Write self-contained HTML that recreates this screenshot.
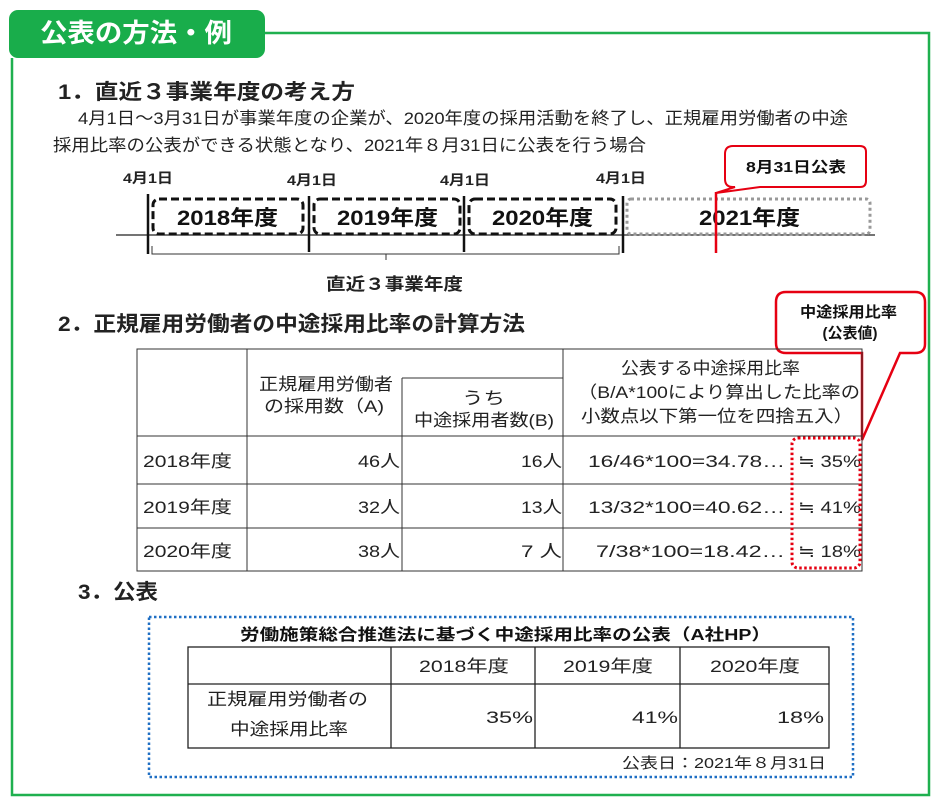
<!DOCTYPE html>
<html><head><meta charset="utf-8"><style>
html,body{margin:0;padding:0;background:#fff;}
svg{display:block;font-family:"Liberation Sans","Noto Sans CJK JP",sans-serif;}
.b{font-weight:bold;}
</style></head><body>
<svg width="940" height="805" viewBox="0 0 940 805" xmlns="http://www.w3.org/2000/svg">
<path d="M265 33 H929 V795 H12 V58" fill="none" stroke="#1fb04f" stroke-width="2.5"/>
<rect x="9" y="10" width="256" height="48" rx="9" fill="#19ad4b"/>
<text x="40" y="42" font-size="26" fill="#fff" class="b" textLength="192" lengthAdjust="spacingAndGlyphs">公表の方法・例</text>

<text x="58" y="99" font-size="21" class="b" fill="#222" textLength="297" lengthAdjust="spacingAndGlyphs">1．直近３事業年度の考え方</text>
<text x="78" y="124" font-size="17" fill="#222" textLength="770" lengthAdjust="spacingAndGlyphs">4月1日～3月31日が事業年度の企業が、2020年度の採用活動を終了し、正規雇用労働者の中途</text>
<text x="53" y="151" font-size="17" fill="#222" textLength="593" lengthAdjust="spacingAndGlyphs">採用比率の公表ができる状態となり、2021年８月31日に公表を行う場合</text>

<g font-size="14" class="b" fill="#222">
<text x="123" y="183" textLength="50" lengthAdjust="spacingAndGlyphs">4月1日</text>
<text x="287" y="185" textLength="50" lengthAdjust="spacingAndGlyphs">4月1日</text>
<text x="440" y="185" textLength="50" lengthAdjust="spacingAndGlyphs">4月1日</text>
<text x="596" y="183" textLength="50" lengthAdjust="spacingAndGlyphs">4月1日</text>
</g>
<line x1="116" y1="235" x2="875" y2="235" stroke="#222" stroke-width="1.2"/>
<g stroke="#111" stroke-width="2.5">
<line x1="148" y1="194" x2="148" y2="254"/>
<line x1="309" y1="196" x2="309" y2="252"/>
<line x1="464" y1="196" x2="464" y2="252"/>
<line x1="623" y1="196" x2="623" y2="253"/>
</g>
<g fill="none" stroke="#111" stroke-width="3" stroke-dasharray="8,4">
<rect x="153" y="199" width="150" height="35" rx="6"/>
<rect x="314" y="199" width="146" height="35" rx="6"/>
<rect x="469" y="199" width="147" height="35" rx="6"/>
</g>
<rect x="627" y="199" width="243" height="35" rx="4" fill="none" stroke="#999" stroke-width="3" stroke-dasharray="3,3"/>
<g font-size="21" class="b" fill="#111">
<text x="177" y="225" textLength="101" lengthAdjust="spacingAndGlyphs">2018年度</text>
<text x="337" y="225" textLength="101" lengthAdjust="spacingAndGlyphs">2019年度</text>
<text x="492" y="225" textLength="101" lengthAdjust="spacingAndGlyphs">2020年度</text>
<text x="699" y="225" textLength="101" lengthAdjust="spacingAndGlyphs">2021年度</text>
</g>
<path d="M152 246 V254 H619 V246 M386 254 V260" fill="none" stroke="#333" stroke-width="1"/>
<text x="326" y="290" font-size="17" class="b" fill="#222" textLength="137" lengthAdjust="spacingAndGlyphs">直近３事業年度</text>
<line x1="716" y1="192" x2="716" y2="253" stroke="#e60012" stroke-width="2.5"/>
<path d="M733 146 H860 Q866 146 866 152 V181 Q866 187 860 187 H760 L716 193 L735 187 H733 Q725 187 725 179 V154 Q725 146 733 146 Z" fill="#fff" stroke="#e60012" stroke-width="2"/>
<text x="746" y="172" font-size="15" class="b" fill="#111" textLength="100" lengthAdjust="spacingAndGlyphs">8月31日公表</text>

<text x="58" y="331" font-size="21" class="b" fill="#222" textLength="467" lengthAdjust="spacingAndGlyphs">2．正規雇用労働者の中途採用比率の計算方法</text>
<path d="M786 292 H915 Q925 292 925 302 V344 Q925 353 915 353 H900 L862 440 L862 353 H786 Q776 353 776 343 V302 Q776 292 786 292 Z" fill="#fff" stroke="#e60012" stroke-width="2.5"/>
<text x="800" y="317" font-size="15" class="b" fill="#111" textLength="97" lengthAdjust="spacingAndGlyphs">中途採用比率</text>
<text x="850" y="338" font-size="15" class="b" fill="#111" text-anchor="middle">(公表値)</text>

<g stroke="#333" stroke-width="1" fill="none">
<rect x="137" y="349" width="725" height="222"/>
<line x1="137" y1="436" x2="862" y2="436"/>
<line x1="137" y1="484" x2="862" y2="484"/>
<line x1="137" y1="528" x2="862" y2="528"/>
<line x1="247" y1="349" x2="247" y2="571"/>
<line x1="402" y1="378" x2="402" y2="571"/>
<line x1="563" y1="349" x2="563" y2="571"/>
<line x1="402" y1="378" x2="563" y2="378"/>
</g>
<g font-size="17" fill="#222" lengthAdjust="spacingAndGlyphs">
<text x="259" y="390" textLength="134" lengthAdjust="spacingAndGlyphs">正規雇用労働者</text>
<text x="264" y="412" textLength="120" lengthAdjust="spacingAndGlyphs">の採用数（A)</text>
<text x="462" y="404" textLength="43" lengthAdjust="spacingAndGlyphs">うち</text>
<text x="414" y="426" textLength="140" lengthAdjust="spacingAndGlyphs">中途採用者数(B)</text>
<text x="621" y="374" textLength="179" lengthAdjust="spacingAndGlyphs">公表する中途採用比率</text>
<text x="578" y="398" textLength="282" lengthAdjust="spacingAndGlyphs">（B/A*100により算出した比率の</text>
<text x="581" y="422" textLength="272" lengthAdjust="spacingAndGlyphs">小数点以下第一位を四捨五入）</text>
<text x="143" y="467" textLength="89" lengthAdjust="spacingAndGlyphs">2018年度</text>
<text x="143" y="513" textLength="89" lengthAdjust="spacingAndGlyphs">2019年度</text>
<text x="143" y="557" textLength="89" lengthAdjust="spacingAndGlyphs">2020年度</text>
<text x="358" y="467" textLength="42" lengthAdjust="spacingAndGlyphs">46人</text>
<text x="358" y="513" textLength="42" lengthAdjust="spacingAndGlyphs">32人</text>
<text x="358" y="557" textLength="42" lengthAdjust="spacingAndGlyphs">38人</text>
<text x="521" y="467" textLength="41" lengthAdjust="spacingAndGlyphs">16人</text>
<text x="521" y="513" textLength="41" lengthAdjust="spacingAndGlyphs">13人</text>
<text x="521" y="557" textLength="41" lengthAdjust="spacingAndGlyphs">7 人</text>
<text x="588" y="467" textLength="197" lengthAdjust="spacingAndGlyphs">16/46*100=34.78…</text>
<text x="588" y="513" textLength="197" lengthAdjust="spacingAndGlyphs">13/32*100=40.62…</text>
<text x="596" y="557" textLength="189" lengthAdjust="spacingAndGlyphs">7/38*100=18.42…</text>
<text x="798" y="467" textLength="63" lengthAdjust="spacingAndGlyphs">≒ 35%</text>
<text x="798" y="513" textLength="63" lengthAdjust="spacingAndGlyphs">≒ 41%</text>
<text x="798" y="557" textLength="63" lengthAdjust="spacingAndGlyphs">≒ 18%</text>
</g>
<rect x="792" y="438" width="68" height="130" rx="6" fill="none" stroke="#e60012" stroke-width="3" stroke-dasharray="2.5,2.5"/>

<text x="78" y="599" font-size="21" class="b" fill="#222" textLength="80" lengthAdjust="spacingAndGlyphs">3．公表</text>
<rect x="149" y="617" width="704" height="160" fill="none" stroke="#1f6fc4" stroke-width="2.5" stroke-dasharray="2.5,2.5"/>
<text x="240" y="640" font-size="16" class="b" fill="#111" textLength="531" lengthAdjust="spacingAndGlyphs">労働施策総合推進法に基づく中途採用比率の公表（A社HP）</text>
<g stroke="#222" stroke-width="1.3" fill="none">
<rect x="188" y="647" width="641" height="101"/>
<line x1="188" y1="684" x2="829" y2="684"/>
<line x1="391" y1="647" x2="391" y2="748"/>
<line x1="535" y1="647" x2="535" y2="748"/>
<line x1="680" y1="647" x2="680" y2="748"/>
</g>
<g font-size="17" fill="#222">
<text x="419" y="672" textLength="90" lengthAdjust="spacingAndGlyphs">2018年度</text>
<text x="563" y="672" textLength="90" lengthAdjust="spacingAndGlyphs">2019年度</text>
<text x="710" y="672" textLength="90" lengthAdjust="spacingAndGlyphs">2020年度</text>
<text x="207" y="705" textLength="161" lengthAdjust="spacingAndGlyphs">正規雇用労働者の</text>
<text x="230" y="735" textLength="118" lengthAdjust="spacingAndGlyphs">中途採用比率</text>
<text x="486" y="723" textLength="47" lengthAdjust="spacingAndGlyphs">35%</text>
<text x="632" y="723" textLength="46" lengthAdjust="spacingAndGlyphs">41%</text>
<text x="777" y="723" textLength="47" lengthAdjust="spacingAndGlyphs">18%</text>
</g>
<text x="622" y="768" font-size="15" fill="#222" textLength="204" lengthAdjust="spacingAndGlyphs">公表日：2021年８月31日</text>
</svg>
</body></html>
